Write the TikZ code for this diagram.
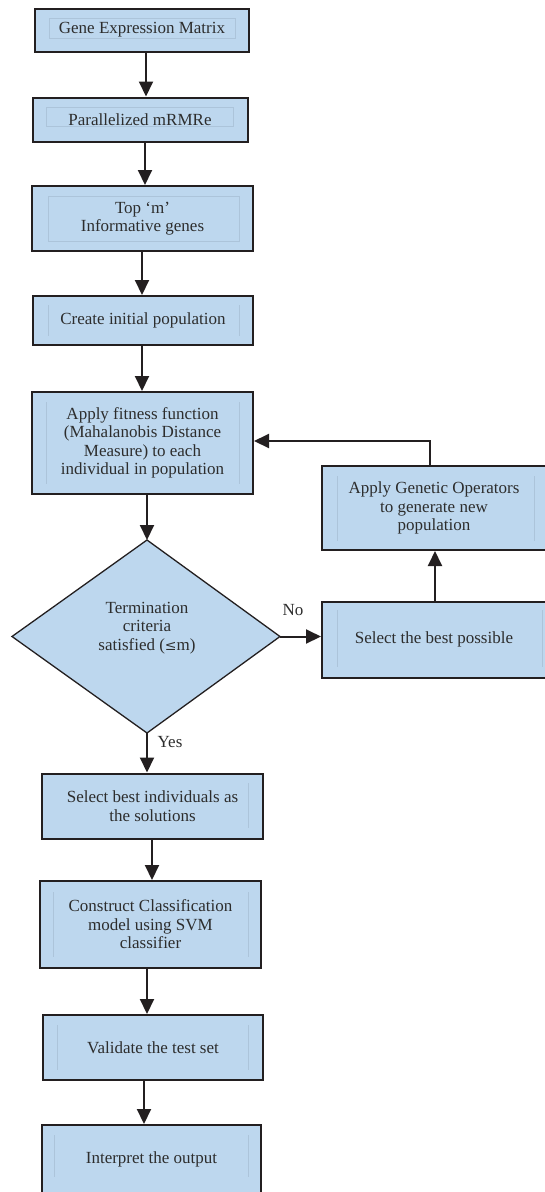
\documentclass[tikz,border=0pt]{standalone}
\usepackage{fontspec}
\setmainfont{Liberation Serif}
\usetikzlibrary{arrows.meta,shapes.geometric}
\definecolor{boxfill}{RGB}{189,215,238}
\definecolor{inkc}{RGB}{35,31,32}
\definecolor{txtc}{RGB}{45,45,45}
\definecolor{innerc}{RGB}{172,196,218}
\tikzset{
  procbox/.style={draw=inkc,line width=2pt,fill=boxfill,text=txtc,align=center,
    font=\fontsize{17}{18.5}\selectfont,inner sep=0pt},
  flow/.style={draw=inkc,line width=2pt,-{Triangle[width=14pt,length=15pt]}},
  lbl/.style={text=txtc,font=\fontsize{17}{18.5}\selectfont},
  innerline/.style={draw=innerc,line width=0.8pt}
}
\begin{document}
\begin{tikzpicture}[x=1pt,y=-1pt]
\useasboundingbox (0,0) rectangle (544,1192);
% main column boxes
\node[procbox,minimum width=214pt,minimum height=43pt] (g1) at (142,30) {};
\node[procbox,minimum width=215pt,minimum height=44pt] (g2) at (140,119.5) {};
\node[procbox,minimum width=221pt,minimum height=65pt] (g3) at (142.5,218.5) {};
\node[procbox,minimum width=220pt,minimum height=49pt] (g4) at (143,320.5) {};
\node[procbox,minimum width=221pt,minimum height=102pt] (g5) at (142.5,443) {};
\node[procbox,minimum width=224pt,minimum height=84pt] (ga) at (434,508) {};
\node[procbox,minimum width=224pt,minimum height=76pt] (gs) at (434,639.5) {};
\node[procbox,minimum width=221pt,minimum height=65pt] (g6) at (152.5,806) {};
\node[procbox,minimum width=221pt,minimum height=87pt] (g7) at (150.5,924.5) {};
\node[procbox,minimum width=220pt,minimum height=65pt] (g8) at (153,1047.5) {};
\node[procbox,minimum width=219pt,minimum height=68pt] (g9) at (151.5,1159) {};
% faint inner frames
\draw[innerline] (49,18) rectangle (235,38);
\draw[innerline] (46,107) rectangle (233,126);
\draw[innerline] (48,196) rectangle (239,241);
\draw[innerline] (48,305) -- (48,336) (239,305) -- (239,336);
\draw[innerline] (46,402) -- (46,484) (239,402) -- (239,484);
\draw[innerline] (337,476) -- (337,541) (534,476) -- (534,541);
\draw[innerline] (337,610) -- (337,667) (542,610) -- (542,667);
\draw[innerline] (248,783) -- (248,828);
\draw[innerline] (53,892) -- (53,957) (248,892) -- (248,957);
\draw[innerline] (57,1025) -- (57,1070) (248,1025) -- (248,1070);
\draw[innerline] (54,1135) -- (54,1177) (248,1135) -- (248,1177);
% texts
\node[lbl,align=center] (t1) at (g1) {Gene Expression Matrix};
\node[lbl,align=center] (t2) at (g2) {Parallelized mRMRe};
\node[lbl,align=center] (t3) at (g3) {Top ‘m’\\Informative genes};
\node[lbl,align=center] (t4) at (g4) {Create initial population};
\node[lbl,align=center] (t5) at (g5) {Apply fitness function\\(Mahalanobis Distance\\Measure) to each\\individual in population};
\node[lbl,align=center] (ta) at (ga) {Apply Genetic Operators\\to generate new\\population};
\node[lbl,align=center] (ts) at (gs) {Select the best possible};
\node[lbl,align=center] (t6) at (g6) {Select best individuals as\\the solutions};
\node[lbl,align=center] (t7) at (g7) {Construct Classification\\model using SVM\\classifier};
\node[lbl,align=center] (t8) at (g8) {Validate the test set};
\node[lbl,align=center] (t9) at (g9) {Interpret the output};
% diamond
\coordinate (dtop) at (147,540);
\coordinate (dright) at (280,636.5);
\coordinate (dbottom) at (147,733);
\coordinate (dleft) at (12,636.5);
\path[draw=inkc,line width=1.3pt,fill=boxfill] (dtop) -- (dright) -- (dbottom) -- (dleft) -- cycle;
\node[lbl,align=center] (dm) at (147,628) {Termination\\criteria\\satisfied (\fontspec{DejaVu Serif}\fontsize{14}{18.5}\selectfont ≤\fontspec{Liberation Serif}\fontsize{17}{18.5}\selectfont m)};
% connectors
\draw[flow] (146,0 |- g1.south) -- (146,0 |- g2.north);
\draw[flow] (145,0 |- g2.south) -- (145,0 |- g3.north);
\draw[flow] (142,0 |- g3.south) -- (142,0 |- g4.north);
\draw[flow] (142,0 |- g4.south) -- (142,0 |- g5.north);
\draw[flow] (147,0 |- g5.south) -- (dtop);
\draw[flow] (dright) -- (dright -| gs.west);
\draw[flow] (435,0 |- gs.north) -- (435,0 |- ga.south);
\draw[flow] (430,0 |- ga.north) -- (430,441) -- (g5.east |- 430,441);
\draw[flow] (dbottom) -- (dbottom |- g6.north);
\draw[flow] (152,0 |- g6.south) -- (152,0 |- g7.north);
\draw[flow] (147,0 |- g7.south) -- (147,0 |- g8.north);
\draw[flow] (144,0 |- g8.south) -- (144,0 |- g9.north);
% labels
\node[lbl] (no) at (293,610) {No};
\node[lbl] (yes) at (170,742) {Yes};
\end{tikzpicture}
\end{document}
